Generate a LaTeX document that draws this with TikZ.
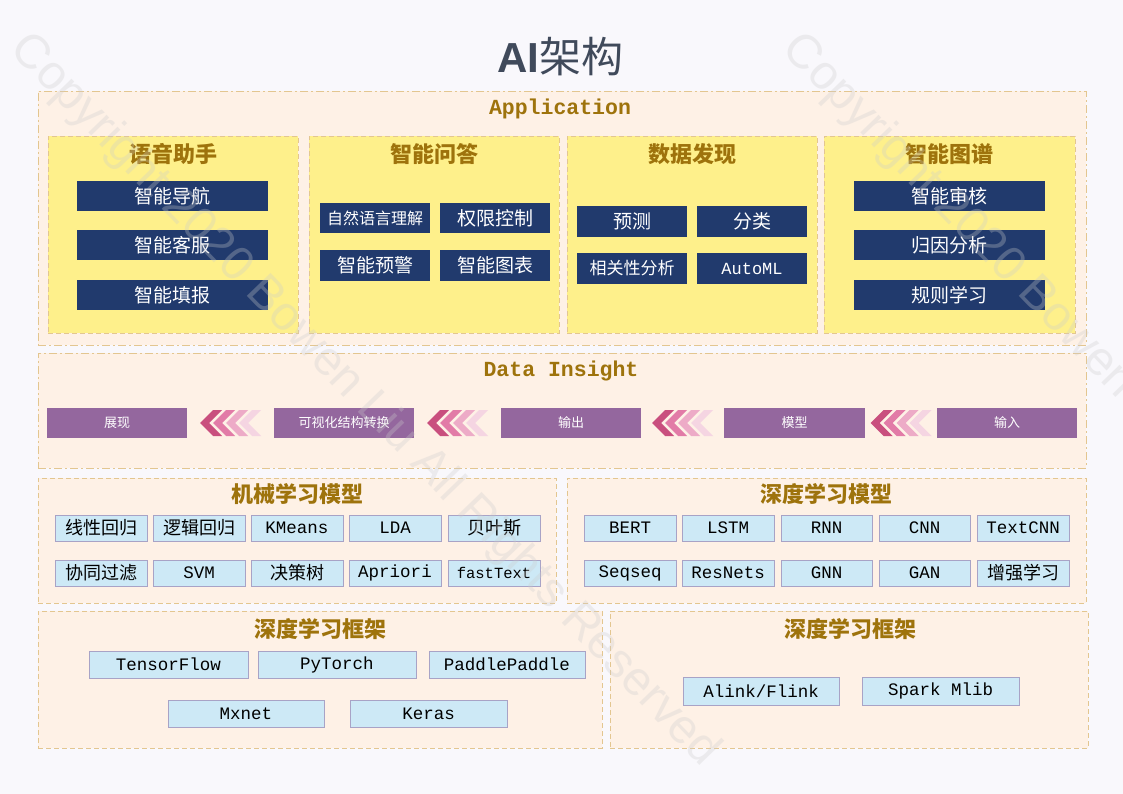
\documentclass[tikz,border=0pt]{standalone}
\usepackage{fontspec}
\newfontfamily\cjk{Noto Sans CJK SC}
\newfontfamily\mono{Liberation Mono}
\newfontfamily\arial{Liberation Sans}
\usetikzlibrary{calc}
\definecolor{bg}{HTML}{F9F8FC}
\definecolor{panelfill}{HTML}{FEF1E6}
\definecolor{panelline}{HTML}{E3C690}
\definecolor{yel}{HTML}{FEF08B}
\definecolor{navyc}{HTML}{213A6D}
\definecolor{purpc}{HTML}{94679E}
\definecolor{lblue}{HTML}{CDE9F6}
\definecolor{lbline}{HTML}{A8A3C6}
\definecolor{gold}{HTML}{9E730C}
\definecolor{titlec}{HTML}{404A5B}
\definecolor{ch1}{HTML}{C94F7E}
\definecolor{ch2}{HTML}{E27BA7}
\definecolor{ch3}{HTML}{EDABC7}
\definecolor{ch4}{HTML}{F5D5E2}
\newcommand\bx[7]{\node[#2, minimum width={#5-#3}, minimum height={#6-#4}] (#1) at ({(#3+#5)/2},{(#4+#6)/2}) {#7};}
\newcommand\chevgroup[1]{%
  \begin{scope}[shift={(#1)}]
    \foreach \k/\c in {0/ch1,1/ch2,2/ch3,3/ch4}{
      \pgfmathsetmacro\tx{-30.5+13*\k}
      \fill[\c] (\tx,0) -- (\tx+13,-13) -- (\tx+22,-13) -- (\tx+9,0) -- (\tx+22,13) -- (\tx+13,13) -- cycle;
    }
  \end{scope}}
\tikzset{
  base/.style={inner sep=0pt, outer sep=0pt},
  panel/.style={base, draw=panelline, fill=panelfill, line width=0.8pt, dash pattern=on 8pt off 3pt on 2pt off 3pt},
  ypanel/.style={base, draw=panelline, fill=yel, line width=0.8pt, dash pattern=on 5pt off 3pt},
  lpanel/.style={base, draw=panelline, fill=panelfill, line width=0.8pt, dash pattern=on 5pt off 3pt},
  navy/.style={base, fill=navyc, text=white, font=\cjk\fontsize{19}{19}\selectfont},
  purp/.style={base, fill=purpc, text=white, font=\cjk\fontsize{13}{13}\selectfont},
  lb/.style={base, fill=lblue, draw=lbline, line width=0.8pt, font=\cjk\fontsize{18}{18}\selectfont},
  lbm/.style={lb, font=\mono\fontsize{17.5}{18}\selectfont},
  ttl/.style={base, text=gold, font=\cjk\bfseries\fontsize{22}{22}\selectfont},
  ettl/.style={base, text=gold, font=\mono\bfseries\fontsize{21.5}{22}\selectfont},
  wm/.style={base, text=gray!40, opacity=0.3, font=\arial\fontsize{48}{48}\selectfont},
}
\begin{document}
\begin{tikzpicture}[x=1pt, y=-1pt]
\useasboundingbox (0,0) rectangle (1123,794);
\fill[bg] (0,0) rectangle (1123,794);

\node[base, text=titlec] (title) at (560,57) {\fontsize{42}{42}\selectfont{\arial\bfseries AI}{\cjk 架构}};

% Application
\bx{app}{panel}{38}{91}{1086}{345}{}
\node[ettl] (appt) at (560,109) {Application};
\bx{y1}{ypanel}{48}{136}{298}{333}{}
\bx{y2}{ypanel}{309}{136}{559}{333}{}
\bx{y3}{ypanel}{567}{136}{817}{333}{}
\bx{y4}{ypanel}{824}{136}{1075}{333}{}
\node[ttl] (y1t) at (173,154) {语音助手};
\node[ttl] (y2t) at (434,154) {智能问答};
\node[ttl] (y3t) at (692,154) {数据发现};
\node[ttl] (y4t) at (949.5,154) {智能图谱};

\bx{a1}{navy}{77}{181}{268}{211}{智能导航}
\bx{a2}{navy}{77}{230}{268}{260}{智能客服}
\bx{a3}{navy}{77}{280}{268}{310}{智能填报}

\bx{b1}{navy, font=\cjk\fontsize{16}{16}\selectfont}{320}{203}{430}{233}{自然语言理解}
\bx{b2}{navy}{440}{203}{550}{233}{权限控制}
\bx{b3}{navy}{320}{250}{430}{281}{智能预警}
\bx{b4}{navy}{440}{250}{550}{281}{智能图表}

\bx{c1}{navy}{577}{206}{687}{237}{预测}
\bx{c2}{navy}{697}{206}{807}{237}{分类}
\bx{c3}{navy, font=\cjk\fontsize{17}{17}\selectfont}{577}{253}{687}{284}{相关性分析}
\bx{c4}{navy, font=\mono\fontsize{17}{17}\selectfont}{697}{253}{807}{284}{AutoML}

\bx{d1}{navy}{854}{181}{1045}{211}{智能审核}
\bx{d2}{navy}{854}{230}{1045}{260}{归因分析}
\bx{d3}{navy}{854}{280}{1045}{310}{规则学习}

% Data Insight
\bx{di}{panel}{38}{353}{1086}{468}{}
\node[ettl] (dit) at (561,371) {Data Insight};
\bx{p1}{purp}{47}{408}{187}{438}{展现}
\bx{p2}{purp}{274}{408}{414}{438}{可视化结构转换}
\bx{p3}{purp}{501}{408}{641}{438}{输出}
\bx{p4}{purp}{724}{408}{865}{438}{模型}
\bx{p5}{purp}{937}{408}{1077}{438}{输入}
\coordinate (g1) at ($(p1.east)!0.5!(p2.west)$);
\coordinate (g2) at ($(p2.east)!0.5!(p3.west)$);
\coordinate (g3) at ($(p3.east)!0.5!(p4.west)$);
\coordinate (g4) at ($(p4.east)!0.5!(p5.west)$);
\chevgroup{g1}
\chevgroup{g2}
\chevgroup{g3}
\chevgroup{g4}

% ML models
\bx{ml}{lpanel}{38}{478}{556}{603}{}
\node[ttl] (mlt) at (297,494) {机械学习模型};
\bx{m1}{lb}{55}{515}{147}{541}{线性回归}
\bx{m2}{lb}{153}{515}{245}{541}{逻辑回归}
\bx{m3}{lbm}{251}{515}{343}{541}{KMeans}
\bx{m4}{lbm}{349}{515}{441}{541}{LDA}
\bx{m5}{lb}{448}{515}{540}{541}{贝叶斯}
\bx{m6}{lb}{55}{560}{147}{586}{协同过滤}
\bx{m7}{lbm}{153}{560}{245}{586}{SVM}
\bx{m8}{lb}{251}{560}{343}{586}{决策树}
\bx{m9}{lbm}{349}{560}{441}{586}{Apriori}
\bx{m10}{lbm, font=\mono\fontsize{15.5}{16}\selectfont}{448}{560}{540}{586}{fastText}

% DL models
\bx{dl}{lpanel}{567}{478}{1086}{603}{}
\node[ttl] (dlt) at (826,494) {深度学习模型};
\bx{n1}{lbm}{584}{515}{676}{541}{BERT}
\bx{n2}{lbm}{682}{515}{774}{541}{LSTM}
\bx{n3}{lbm}{781}{515}{872}{541}{RNN}
\bx{n4}{lbm}{879}{515}{970}{541}{CNN}
\bx{n5}{lbm}{977}{515}{1069}{541}{TextCNN}
\bx{n6}{lbm}{584}{560}{676}{586}{Seqseq}
\bx{n7}{lbm}{682}{560}{774}{586}{ResNets}
\bx{n8}{lbm}{781}{560}{872}{586}{GNN}
\bx{n9}{lbm}{879}{560}{970}{586}{GAN}
\bx{n10}{lb}{977}{560}{1069}{586}{增强学习}

% Frameworks left
\bx{fl}{lpanel}{38}{611}{602}{748}{}
\node[ttl] (flt) at (320,629) {深度学习框架};
\bx{f1}{lbm}{89}{651}{248}{678}{TensorFlow}
\bx{f2}{lbm}{258}{651}{416}{678}{PyTorch}
\bx{f3}{lbm}{429}{651}{585}{678}{PaddlePaddle}
\bx{f4}{lbm}{168}{700}{324}{727}{Mxnet}
\bx{f5}{lbm}{350}{700}{507}{727}{Keras}

% Frameworks right
\bx{fr}{lpanel}{610}{611}{1088}{748}{}
\node[ttl] (frt) at (850,629) {深度学习框架};
\bx{g5}{lbm}{683}{677}{839}{705}{Alink/Flink}
\bx{g6}{lbm}{862}{677}{1019}{705}{Spark Mlib}

% watermark
\node[wm, rotate=-46, anchor=north west] (wm1) at (34,26) {Copyright 2020 Bowen Liu All Rights Reserved};
\node[wm, rotate=-46, anchor=north west] (wm2) at (806,26) {Copyright 2020 Bowen Liu All Rights Reserved};
\end{tikzpicture}
\end{document}
